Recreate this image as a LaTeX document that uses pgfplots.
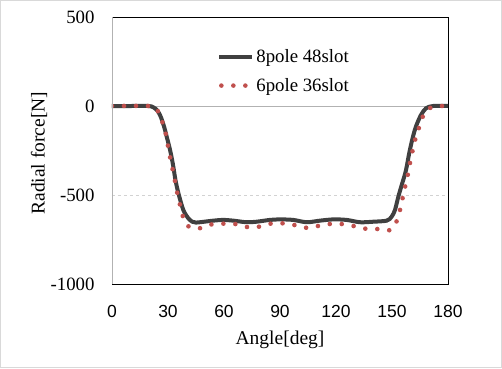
\documentclass[border=0pt]{standalone}
\usepackage{pgfplots}
\pgfplotsset{compat=1.18}
\usepackage{fontspec}
\setmainfont{Liberation Serif}
\newfontfamily\tickfont{Liberation Sans}
\definecolor{lineC}{HTML}{404040}
\definecolor{dotC}{HTML}{C0504D}
\pgfplotsset{
  lineleg/.style={legend image code/.code={\draw[##1] (0pt,0pt) -- (33pt,0pt);}},
  dotleg/.style={legend image code/.code={\draw[##1] (2pt,0pt) -- (28pt,0pt);}},
}
\begin{document}
\begin{tikzpicture}
\begin{axis}[
  scale only axis, width=336pt, height=267pt,
  xmin=0, xmax=180, ymin=-1000, ymax=500,
  xtick={0,30,60,90,120,150,180},
  xticklabels={0,30,60,90,120,150,180},
  ytick={-1000,-500,0,500},
  yticklabels={-1000,-500,0,500},
  major tick length=0pt,
  xticklabel style={font=\tickfont\fontsize{17.5}{18}\selectfont, anchor=center, yshift=-27.5pt},
  yticklabel style={font=\fontsize{18.8}{19}\selectfont, anchor=east, xshift=-14pt},
  ymajorgrids, major grid style={dashed, gray!35, line width=0.6pt},
  axis line style={black, line width=0.8pt},
  xlabel={Angle[deg]}, ylabel={Radial force[N]},
  label style={font=\fontsize{19.5}{20}\selectfont},
  xlabel style={at={(axis description cs:0.5,-0.21)}, anchor=center},
  ylabel style={at={(axis description cs:-0.217,0.49)}, anchor=center},
  legend style={at={(rel axis cs:0.307,0.893)}, anchor=north west, draw=none, fill=none,
    font=\fontsize{18.8}{19}\selectfont, row sep=10pt, inner sep=2pt,
    nodes={inner xsep=2pt}},
  legend cell align=left,
]
\draw[gray!60, line width=0.8pt] (axis cs:0,0) -- (axis cs:180,0);
\addplot[color=lineC, line width=4pt, smooth, tension=0.5, lineleg]
  coordinates {
(0,0) (10,0) (19.5,0) (22.1,-7) (24.3,-26) (26.1,-60) (27.9,-116) (29.3,-172)
(31.1,-247) (32.7,-331) (34.0,-416) (35.6,-491) (38.2,-584) (40.9,-631) (43,-650)
(45,-655) (47.1,-653) (54.3,-644) (59.6,-640) (65,-644) (72.1,-653) (77.5,-650)
(84.6,-640) (90,-637) (97.1,-640) (104.3,-653) (111.4,-644) (118.6,-637)
(125.7,-640) (132.9,-653) (140,-650) (147.2,-644) (149.8,-622) (151.6,-584)
(153.4,-509) (155.4,-437) (157.4,-365) (159.2,-266) (161.0,-182) (162.8,-116)
(165.5,-51) (168.2,-13) (172,0) (180,0)
  };
\addlegendentry{8pole 48slot}
\addplot[color=dotC, line width=4.6pt, line cap=round, dash pattern=on 0pt off 12pt, smooth, tension=0.5, dotleg]
  coordinates {
(0,0) (20,0) (22.5,-8) (24.8,-32) (27.1,-94) (28.8,-157) (30.0,-225) (31.2,-292)
(32.5,-358) (33.75,-423) (35.0,-491) (36.4,-554) (37.9,-618) (39.5,-660) (41.5,-680)
(45,-688) (47.0,-687) (53.4,-665) (59.8,-661) (66.1,-663) (72.5,-680) (78.75,-678)
(85,-661) (91.4,-659) (97.9,-669) (104.1,-684) (110.4,-674) (116.6,-663) (123,-663)
(129.3,-674) (135.7,-689) (142,-691) (148.5,-698) (150.5,-685) (152.3,-652)
(154.3,-584) (155.6,-521) (157,-455) (158.4,-390) (159.6,-322) (160.9,-257)
(162.3,-193) (164.3,-127) (166.3,-64) (168,-30) (170.4,-11) (173,-2) (176.6,0) (180,0)
  };
\addlegendentry{6pole 36slot}
\draw[gray!60, line width=0.8pt] (rel axis cs:0,0) -- (rel axis cs:0,1);
\end{axis}
\draw[gray!30, line width=1pt] (-111.5pt,-83.5pt) rectangle (389.5pt,283.5pt);
\end{tikzpicture}
\end{document}
